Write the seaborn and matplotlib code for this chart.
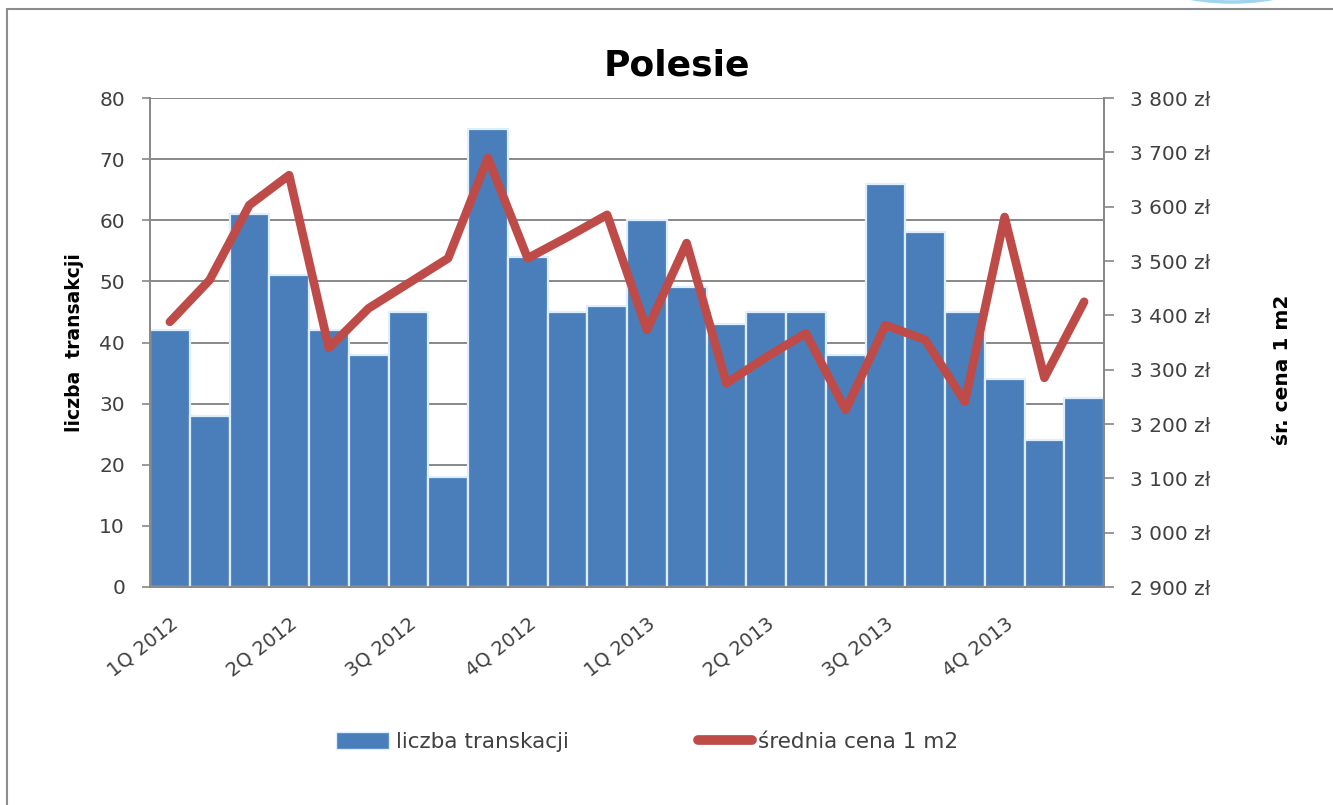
import numpy as np
import matplotlib
matplotlib.use("Agg")
import matplotlib.pyplot as plt
import seaborn as sns
from matplotlib.patches import Patch, Rectangle, Ellipse
from matplotlib.lines import Line2D
from matplotlib.ticker import FuncFormatter, FixedLocator

# ---- data ----
quarter_labels = ["1Q 2012", "2Q 2012", "3Q 2012", "4Q 2012",
                  "1Q 2013", "2Q 2013", "3Q 2013", "4Q 2013"]
months = list(range(24))
transactions = [42, 28, 61, 51, 42, 38, 45, 18, 75, 54, 45, 46,
                60, 49, 43, 45, 45, 38, 66, 58, 45, 34, 24, 31]
avg_price = [3388, 3465, 3603, 3658, 3340, 3413, 3459, 3505, 3690, 3505, 3544, 3585,
             3373, 3533, 3275, 3323, 3367, 3226, 3382, 3355, 3241, 3581, 3285, 3425]

bar_color = "#4A7EBB"
line_color = "#BE4B48"
grid_color = "#888888"
text_color = "#404040"

sns.set_style("white")
plt.rcParams["font.family"] = ["DejaVu Sans"]

W, H = 1333, 805
fig = plt.figure(figsize=(W / 100, H / 100), dpi=100)
ax = fig.add_axes([150 / W, 1 - 587 / H, (1104 - 150) / W, (587 - 98) / H])

sns.barplot(x=months, y=transactions, ax=ax, color=bar_color, width=1.0,
            edgecolor="#DDEEFF", linewidth=1.6, saturation=1, zorder=2)
ax.set_xlim(-0.5, 23.5)
ax.set_ylim(0, 80)
ax.set_yticks(np.arange(0, 81, 10))
ax.yaxis.grid(True, color=grid_color, linewidth=1.4)
ax.xaxis.grid(False)
ax.set_axisbelow(True)

# x ticks: labels every quarter at bar centres, tick marks at bar boundaries
ax.xaxis.set_major_locator(FixedLocator(np.arange(0, 24, 3)))
ax.set_xticklabels(quarter_labels, rotation=38, ha="right", rotation_mode="anchor",
                   fontsize=14, color=text_color)
ax.xaxis.set_minor_locator(FixedLocator(np.arange(-0.5, 24, 1)))
ax.tick_params(axis="x", which="major", length=0, pad=19)
ax.tick_params(axis="x", which="minor", length=7, width=1.2, color=grid_color, direction="out")
ax.tick_params(axis="y", length=6, width=1.2, color=grid_color, labelsize=14.5,
               labelcolor=text_color, pad=12, left=True)
ax.set_xlabel("")
ax.set_ylabel("liczba  transakcji", fontsize=13.5, fontweight="bold", color="black", labelpad=11)

for s in ["left", "bottom", "right"]:
    ax.spines[s].set_color(grid_color)
    ax.spines[s].set_linewidth(1.4)
ax.spines["top"].set_visible(False)

ax2 = ax.twinx()
sns.lineplot(x=months, y=avg_price, ax=ax2, color=line_color, linewidth=6.2,
             solid_capstyle="round", solid_joinstyle="round", zorder=3)
ax2.set_ylim(2900, 3800)
ax2.set_yticks(np.arange(2900, 3801, 100))
ax2.yaxis.set_major_formatter(FuncFormatter(lambda v, p: f"{int(round(v)):,}".replace(",", " ") + " zł"))
ax2.tick_params(axis="y", length=7, width=1.2, color=grid_color, labelsize=14.5,
                labelcolor=text_color, pad=12, right=True)
ax2.set_ylabel("śr. cena 1 m2", fontsize=14.5, fontweight="bold", color="black")
ax2.yaxis.set_label_coords((1273 - 150) / (1104 - 150), (587 - 370) / (587 - 98))
for s in ax2.spines.values():
    s.set_visible(False)
ax2.spines["right"].set_visible(True)
ax2.spines["right"].set_color(grid_color)
ax2.spines["right"].set_linewidth(1.4)
ax2.set_xlim(-0.5, 23.5)

fig.text(677 / W, 1 - 65 / H, "Polesie", ha="center", va="center",
         fontsize=26, fontweight="bold", color="black")

handles = [Patch(facecolor=bar_color, edgecolor="#DDEEFF"),
           Line2D([0], [0], color=line_color, linewidth=7, solid_capstyle="round")]
fig.legend(handles, ["liczba transkacji", "średnia cena 1 m2"],
           loc="center", bbox_to_anchor=(647 / W, 1 - 742 / H), ncol=2, frameon=False,
           fontsize=15.5, handlelength=2.5, handleheight=0.8, handletextpad=0.3,
           columnspacing=6.0, labelcolor=text_color)

# outer chart-area frame and decoration
fig.patches.append(Rectangle((7 / W, -0.5), 2.0, 0.5 + (1 - 9 / H), transform=fig.transFigure,
                             fill=False, edgecolor="#8C8C8C", linewidth=1.5))
fig.patches.append(Ellipse((1232 / W, 1 + 20 / H), 150 / W, 44 / H, transform=fig.transFigure,
                           fill=False, edgecolor="#9FD3F0", linewidth=2.5))

fig.savefig("out.png", dpi=100)
